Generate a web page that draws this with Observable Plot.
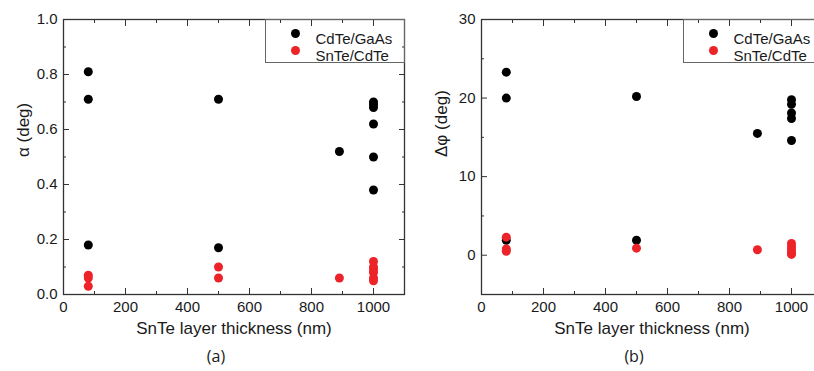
<!DOCTYPE html>
<html>
<head>
<meta charset="utf-8">
<script src="https://cdn.jsdelivr.net/npm/d3@7"></script>
<script src="https://cdn.jsdelivr.net/npm/@observablehq/plot@0.6"></script>
<style>
  html, body { margin: 0; padding: 0; background: #fff; }
  body { width: 814px; height: 371px; overflow: hidden; position: relative; }
  .panel { position: absolute; top: 0; width: 410px; height: 371px; }
  .panel svg { max-width: none !important; }
</style>
</head>
<body>
<div id="panelA" class="panel" style="left:0px"></div>
<div id="panelB" class="panel" style="left:418px"></div>
<script>
// SnTe layer thickness (nm) for each measured sample
const cdteGaAsThickness = [80, 80, 80, 500, 500, 890, 1000, 1000, 1000, 1000, 1000, 1000];
const snteCdteThickness = [80, 80, 80, 500, 500, 890, 1000, 1000, 1000, 1000, 1000, 1000];

// (a) tilt angle alpha (deg)
const cdteGaAsAlpha = [0.81, 0.71, 0.18, 0.71, 0.17, 0.52, 0.70, 0.69, 0.68, 0.62, 0.50, 0.38];
const snteCdteAlpha = [0.07, 0.06, 0.03, 0.10, 0.06, 0.06, 0.12, 0.10, 0.09, 0.08, 0.06, 0.05];

// (b) azimuthal spread delta phi (deg)
const cdteGaAsPhiThickness = [80, 80, 80, 500, 500, 890, 1000, 1000, 1000, 1000, 1000];
const cdteGaAsPhi = [23.3, 20.0, 1.9, 20.2, 1.9, 15.5, 19.8, 19.2, 18.1, 17.4, 14.6];
const snteCdtePhiThickness = [80, 80, 80, 500, 890, 1000, 1000, 1000, 1000, 1000];
const snteCdtePhi = [2.3, 0.8, 0.5, 0.9, 0.7, 1.5, 1.1, 0.7, 0.3, 0.1];

// axis ticks
const xMajor = [0, 200, 400, 600, 800, 1000];
const xMinor = [100, 300, 500, 700, 900, 1100];
const alphaMajor = [0, 0.2, 0.4, 0.6, 0.8, 1.0];
const alphaMinor = [0.1, 0.3, 0.5, 0.7, 0.9];
const phiMajor = [0, 10, 20, 30];
const phiMinor = [-5, 5, 15, 25];

const seriesNames = ["CdTe/GaAs", "SnTe/CdTe"];
const seriesColors = ["#000000", "#ec2328"];

const font = "'Liberation Sans', Arial, sans-serif";
const axisColor = "#333";
const textColor = "#1a1a1a";

function points(xs, ys) {
  return xs.map((x, i) => ({x, y: ys[i]}));
}

function panel({yDomain, yMajor, yMinor, yFormat, yLabel, caption, black, red}) {
  const W = 410, H = 371;
  const innerW = 341, innerH = 275;
  return Plot.plot({
    width: W,
    height: H,
    marginLeft: 63,
    marginRight: W - 63 - innerW,
    marginTop: 19,
    marginBottom: H - 19 - innerH,
    style: {fontFamily: font, fontSize: "15px", color: textColor, background: "#fff", maxWidth: "none"},
    x: {domain: [0, 1100]},
    y: {domain: yDomain},
    marks: [
      // tick labels
      Plot.axisX(xMajor, {anchor: "bottom", tickSize: 0, tickPadding: 7, fontSize: 15, tickFormat: d3.format("d"), label: null}),
      Plot.axisY(yMajor, {anchor: "left", tickSize: 0, tickPadding: 6, fontSize: 15, tickFormat: yFormat, label: null}),
      // inward ticks on all four sides
      Plot.axisX(xMajor, {anchor: "bottom", tickSize: 6, dy: -6, fill: "none", stroke: axisColor, label: null}),
      Plot.axisX(xMinor, {anchor: "bottom", tickSize: 3, dy: -3, fill: "none", stroke: axisColor, label: null}),
      Plot.axisX(xMajor, {anchor: "top", tickSize: 6, dy: 6, fill: "none", stroke: axisColor, label: null}),
      Plot.axisX(xMinor, {anchor: "top", tickSize: 3, dy: 3, fill: "none", stroke: axisColor, label: null}),
      Plot.axisY(yMajor, {anchor: "left", tickSize: 6, dx: 6, fill: "none", stroke: axisColor, label: null}),
      Plot.axisY(yMinor, {anchor: "left", tickSize: 3, dx: 3, fill: "none", stroke: axisColor, label: null}),
      Plot.axisY(yMajor, {anchor: "right", tickSize: 6, dx: -6, fill: "none", stroke: axisColor, label: null}),
      Plot.axisY(yMinor, {anchor: "right", tickSize: 3, dx: -3, fill: "none", stroke: axisColor, label: null}),
      Plot.frame({stroke: axisColor, strokeWidth: 1.3}),
      // axis titles and panel caption
      Plot.text(["SnTe layer thickness (nm)"], {frameAnchor: "bottom", dy: 39, fontSize: 17, fill: textColor}),
      Plot.text([yLabel], {frameAnchor: "left", dx: -40, rotate: -90, fontSize: 17, fill: textColor}),
      Plot.text([caption], {frameAnchor: "bottom", dy: 67, dx: -18, fontSize: 16, fontFamily: "'Open Sans', sans-serif", fill: textColor}),
      // legend box
      Plot.frame({stroke: "#666", strokeWidth: 1, insetLeft: innerW - 139, insetBottom: innerH - 43}),
      Plot.dot([0], {frameAnchor: "top-right", dx: -109, dy: 14, r: 4.5, fill: seriesColors[0]}),
      Plot.dot([0], {frameAnchor: "top-right", dx: -109, dy: 31, r: 4.5, fill: seriesColors[1]}),
      Plot.text([seriesNames[0]], {frameAnchor: "top-right", dx: -89, dy: 14, textAnchor: "start", fontSize: 15, fill: textColor}),
      Plot.text([seriesNames[1]], {frameAnchor: "top-right", dx: -89, dy: 31, textAnchor: "start", fontSize: 15, fill: textColor}),
      // data
      Plot.dot(black, {x: "x", y: "y", r: 4.5, fill: seriesColors[0]}),
      Plot.dot(red, {x: "x", y: "y", r: 4.5, fill: seriesColors[1]})
    ]
  });
}

document.getElementById("panelA").append(panel({
  yDomain: [0, 1],
  yMajor: alphaMajor,
  yMinor: alphaMinor,
  yFormat: d3.format(".1f"),
  yLabel: "α (deg)",
  caption: "(a)",
  black: points(cdteGaAsThickness, cdteGaAsAlpha),
  red: points(snteCdteThickness, snteCdteAlpha)
}));

document.getElementById("panelB").append(panel({
  yDomain: [-5, 30],
  yMajor: phiMajor,
  yMinor: phiMinor,
  yFormat: d3.format("d"),
  yLabel: "Δφ (deg)",
  caption: "(b)",
  black: points(cdteGaAsPhiThickness, cdteGaAsPhi),
  red: points(snteCdtePhiThickness, snteCdtePhi)
}));
</script>
</body>
</html>
